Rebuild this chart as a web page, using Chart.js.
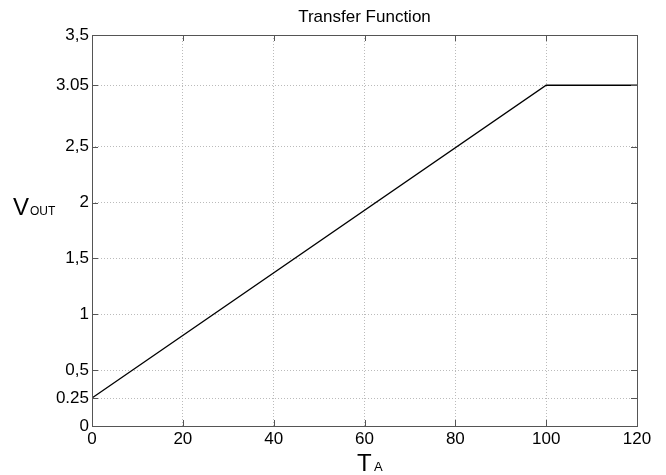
<!DOCTYPE html>
<html>
<head>
<meta charset="utf-8">
<script src="https://cdn.jsdelivr.net/npm/chart.js@4.4.1/dist/chart.umd.min.js"></script>
<style>
  html, body { margin: 0; padding: 0; background: #fff; }
  #wrap { position: relative; width: 666px; height: 475px; }
</style>
</head>
<body>
<div id="wrap"><canvas id="tf" width="666" height="475"></canvas></div>
<script>
// transfer function data
const tempValues = [0, 100, 120];
const voutValues = [0.25, 3.05, 3.05];
const xTicks = [0, 20, 40, 60, 80, 100, 120];
const yTicks = [0, 0.25, 0.5, 1, 1.5, 2, 2.5, 3.05, 3.5];
const yTickLabels = ["0", "0.25", "0,5", "1", "1,5", "2", "2,5", "3.05", "3,5"];

const FONT = "'Liberation Sans', Arial, sans-serif";

// frame, inward ticks, title and the axis labels with subscripts
const matlabAxes = {
  id: "matlabAxes",
  afterDraw(chart) {
    const { ctx, chartArea: a, scales } = chart;
    ctx.save();
    ctx.strokeStyle = "#555";
    ctx.lineWidth = 1;
    ctx.beginPath();
    xTicks.forEach(v => {
      const px = Math.round(scales.x.getPixelForValue(v)) + 0.5;
      ctx.moveTo(px, a.bottom); ctx.lineTo(px, a.bottom - 6);
      ctx.moveTo(px, a.top); ctx.lineTo(px, a.top + 6);
    });
    yTicks.forEach(v => {
      const py = Math.round(scales.y.getPixelForValue(v)) + 0.5;
      ctx.moveTo(a.left, py); ctx.lineTo(a.left + 6, py);
      ctx.moveTo(a.right, py); ctx.lineTo(a.right - 6, py);
    });
    ctx.stroke();
    ctx.strokeRect(Math.round(a.left) + 0.5, Math.round(a.top) + 0.5,
      Math.round(a.right - a.left), Math.round(a.bottom - a.top));

    ctx.fillStyle = "#000";
    ctx.textBaseline = "alphabetic";
    ctx.textAlign = "center";
    ctx.font = "17px " + FONT;
    ctx.fillText("Transfer Function", (a.left + a.right) / 2, 22);

    ctx.textAlign = "left";
    ctx.font = "24px " + FONT;
    ctx.fillText("V", 13, 215);
    ctx.font = "12px " + FONT;
    ctx.fillText("OUT", 30, 215);
    ctx.font = "24px " + FONT;
    ctx.fillText("T", 357, 471);
    ctx.font = "13px " + FONT;
    ctx.fillText("A", 374, 471);
    ctx.restore();
  }
};

new Chart(document.getElementById("tf"), {
  type: "line",
  data: {
    datasets: [{
      data: tempValues.map((t, i) => ({ x: t, y: voutValues[i] })),
      borderColor: "#000",
      borderWidth: 1.3,
      pointRadius: 0,
      tension: 0,
      fill: false
    }]
  },
  options: {
    responsive: false,
    animation: false,
    layout: { padding: { left: 0, right: 29, top: 35, bottom: 0 } },
    plugins: {
      legend: { display: false },
      tooltip: { enabled: false },
      title: { display: false }
    },
    scales: {
      x: {
        type: "linear",
        min: 0,
        max: 120,
        afterBuildTicks: s => { s.ticks = xTicks.map(v => ({ value: v })); },
        afterFit: s => { s.height = 49; },
        grid: { color: "#bbb", lineWidth: 1, drawTicks: false },
        border: { display: false, dash: [1, 2] },
        ticks: {
          color: "#000",
          padding: 3,
          maxRotation: 0,
          font: { family: FONT, size: 17 },
          callback: v => String(v)
        }
      },
      y: {
        type: "linear",
        min: 0,
        max: 3.5,
        afterBuildTicks: s => { s.ticks = yTicks.map(v => ({ value: v })); },
        afterFit: s => { s.width = 92; },
        grid: { color: "#bbb", lineWidth: 1, drawTicks: false },
        border: { display: false, dash: [1, 2] },
        ticks: {
          color: "#000",
          padding: 3,
          font: { family: FONT, size: 17 },
          callback: v => {
            const i = yTicks.indexOf(v);
            return i >= 0 ? yTickLabels[i] : "";
          }
        }
      }
    }
  },
  plugins: [matlabAxes]
});
</script>
</body>
</html>
